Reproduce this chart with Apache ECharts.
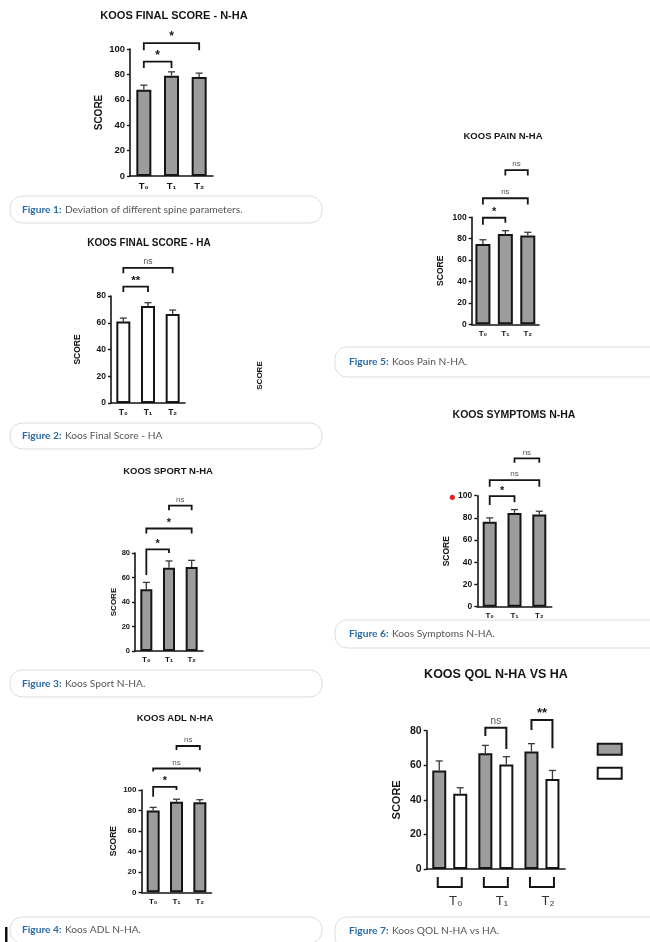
<!DOCTYPE html>
<html><head><meta charset="utf-8">
<script src="https://cdn.jsdelivr.net/npm/echarts@6/dist/echarts.min.js"></script>
<style>html,body{margin:0;padding:0;background:#fff}#c{width:650px;height:942px}</style>
</head><body><div id="c"></div>
<script>
// ---------- data ----------
const timeLabels = ['T₀', 'T₁', 'T₂'];

const finalNHAMean  = [68, 79, 78];
const finalNHAUpper = [71.5, 82, 81];
const finalNHABrackets = [[0, 1, 90, 85, 85], [0, 2, 104.7, 99, 99]];
const finalNHALabels = ['*', '*'];

const finalHAMean  = [61, 72.5, 66.5];
const finalHAUpper = [63.5, 75, 69.5];
const finalHABrackets = [[0, 1, 87, 83, 83], [0, 2, 101, 97, 97]];
const finalHALabels = ['**', 'ns'];

const sportNHAMean  = [50.5, 68, 68.5];
const sportNHAUpper = [56, 73.5, 74];
const sportNHABrackets = [[0, 1, 83, 62, 80], [0, 2, 100, 96, 96], [1, 2, 118.6, 115, 115]];
const sportNHALabels = ['*', '*', 'ns'];

const adlNHAMean  = [80, 88.5, 88];
const adlNHAUpper = [83, 91, 90.5];
const adlNHABrackets = [[0, 1, 103, 93.5, 100], [0, 2, 121, 118, 118], [1, 2, 143, 139, 139]];
const adlNHALabels = ['*', 'ns', 'ns'];

const painNHAMean  = [75, 84.5, 83];
const painNHAUpper = [79, 87.5, 86];
const painNHABrackets = [[0, 1, 99.6, 93, 95], [0, 2, 117.8, 112, 112], [1, 2, 144, 139, 139]];
const painNHALabels = ['*', 'ns', 'ns'];

const symptomsNHAMean  = [76.5, 84.5, 83];
const symptomsNHAUpper = [80, 87.5, 86];
const symptomsNHABrackets = [[0, 1, 99.7, 91.6, 94], [0, 2, 114, 108, 108], [1, 2, 133.6, 129.7, 129.7]];
const symptomsNHALabels = ['*', 'ns', 'ns'];

const qolNHAMean  = [57, 67, 68];
const qolNHAUpper = [62.5, 71.5, 72.5];
const qolHAMean   = [43.5, 60.5, 52];
const qolHAUpper  = [47, 65, 57];
const qolBrackets = [[1, 81.7, 77, 69.4], [2, 86.2, 80.4, 69.8]];
const qolLabels = ['ns', '**'];

const captionTexts = [
  'Deviation of different spine parameters.',
  'Koos Final Score - HA',
  'Koos Sport N-HA.',
  'Koos ADL N-HA.',
  'Koos Pain N-HA.',
  'Koos Symptoms N-HA.',
  'Koos QOL N-HA vs HA.'
];

// ---------- styling / layout ----------
const FONT = '"Liberation Sans", Arial, sans-serif';
const GRAY = '#9c9c9c';
const INK = '#151515';

const charts = [
  { title: 'KOOS FINAL SCORE - N-HA', tx: 174, ty: 17, tfs: 11, grid: [130, 49, 83, 127], max: 100, barW: 15, fill: GRAY, lfs: 9.5, nfs: 10, gap: 26, xfs: 9.5, bfs: 9,
    mean: finalNHAMean, upper: finalNHAUpper, br: finalNHABrackets, brl: finalNHALabels },
  { title: 'KOOS FINAL SCORE - HA', tx: 149, ty: 244, tfs: 10, grid: [111, 296, 74, 107], max: 80, barW: 14, fill: '#ffffff', lfs: 8.5, nfs: 8.5, gap: 28.5, xfs: 8.5, bfs: 8.5,
    mean: finalHAMean, upper: finalHAUpper, br: finalHABrackets, brl: finalHALabels },
  { title: 'KOOS SPORT N-HA', tx: 168, ty: 472, tfs: 9.5, grid: [135, 553, 68, 98], max: 80, barW: 12, fill: GRAY, lfs: 7.5, nfs: 8, gap: 17, xfs: 8, bfs: 8,
    mean: sportNHAMean, upper: sportNHAUpper, br: sportNHABrackets, brl: sportNHALabels },
  { title: 'KOOS ADL N-HA', tx: 175, ty: 719, tfs: 9.5, grid: [141.5, 790, 70, 102.3], max: 100, barW: 13, fill: GRAY, lfs: 8, nfs: 8.5, gap: 23, xfs: 8, bfs: 8,
    mean: adlNHAMean, upper: adlNHAUpper, br: adlNHABrackets, brl: adlNHALabels },
  { title: 'KOOS PAIN N-HA', tx: 503, ty: 137, tfs: 9.5, grid: [471.7, 217.3, 67.3, 107], max: 100, barW: 15, fill: GRAY, lfs: 8.5, nfs: 8.5, gap: 27, xfs: 8, bfs: 8,
    mean: painNHAMean, upper: painNHAUpper, br: painNHABrackets, brl: painNHALabels },
  { title: 'KOOS SYMPTOMS N-HA', tx: 514, ty: 416, tfs: 10.5, grid: [477.3, 495.7, 74.4, 111], max: 100, barW: 14, fill: GRAY, lfs: 8.5, nfs: 8.5, gap: 26, xfs: 8, bfs: 8,
    mean: symptomsNHAMean, upper: symptomsNHAUpper, br: symptomsNHABrackets, brl: symptomsNHALabels }
];
const qol = { title: 'KOOS QOL N-HA VS HA', tx: 496, ty: 675, tfs: 12.5, grid: [426.7, 730.7, 138.3, 138.3], max: 80, barW: 14, lfs: 10.5, nfs: 11, gap: 24 };

function errRender(offset) {
  return function (params, api) {
    const k = api.value(0);
    const p0 = api.coord([k, api.value(1)]);
    const p1 = api.coord([k, api.value(2)]);
    const x = p0[0] + offset, cw = 3.5;
    const st = { stroke: '#3a3a3a', lineWidth: 1.3 };
    return { type: 'group', children: [
      { type: 'line', shape: { x1: x, y1: p0[1], x2: x, y2: p1[1] }, style: st },
      { type: 'line', shape: { x1: x - cw, y1: p1[1], x2: x + cw, y2: p1[1] }, style: st }
    ]};
  };
}
function labelEl(x, y, lab, fs) {
  const star = lab.indexOf('*') >= 0;
  return { type: 'text', x: x, y: y - (star ? 0 : 2),
    style: { text: lab, align: 'center', verticalAlign: 'bottom',
      font: (star ? 'bold ' + (fs + 3) : 'normal ' + fs) + 'px ' + FONT, fill: star ? INK : '#555' } };
}
function bracketRender(labels, fs) {
  return function (params, api) {
    const a = api.value(0), b = api.value(1);
    const pl = api.coord([a, api.value(3)]);
    const pt = api.coord([a, api.value(2)]);
    const pt2 = api.coord([b, api.value(2)]);
    const pr = api.coord([b, api.value(4)]);
    return { type: 'group', children: [
      { type: 'polyline', shape: { points: [pl, pt, pt2, pr] }, style: { stroke: INK, lineWidth: 1.8, fill: 'none' } },
      labelEl((pt[0] + pt2[0]) / 2, pt[1], labels[params.dataIndex], fs)
    ]};
  };
}

const grid = [], xAxis = [], yAxis = [], series = [], title = [];

function addAxes(i, c, xExtra) {
  grid.push({ left: c.grid[0], top: c.grid[1], width: c.grid[2], height: c.grid[3], containLabel: false });
  xAxis.push(Object.assign({
    type: 'category', gridIndex: i, data: timeLabels,
    axisLine: { lineStyle: { color: INK, width: 1.6 } },
    axisTick: { alignWithLabel: true, length: 3, lineStyle: { color: INK, width: 1.4 } },
    axisLabel: { fontFamily: FONT, fontWeight: 'bold', fontSize: c.xfs, color: INK, margin: 5 }
  }, xExtra || {}));
  yAxis.push({
    type: 'value', gridIndex: i, min: 0, max: c.max, interval: 20,
    name: 'SCORE', nameLocation: 'middle', nameRotate: 90, nameGap: c.gap,
    nameTextStyle: { fontFamily: FONT, fontWeight: 'bold', fontSize: c.nfs, color: INK },
    splitLine: { show: false },
    axisLine: { show: true, lineStyle: { color: INK, width: 1.6 } },
    axisTick: { show: true, length: 3, lineStyle: { color: INK, width: 1.4 } },
    axisLabel: { fontFamily: FONT, fontWeight: 'bold', fontSize: c.lfs, color: INK, margin: 5 }
  });
  title.push({ text: c.title, left: c.tx, top: c.ty - c.tfs / 2 - 1, textAlign: 'center', padding: 0,
    textStyle: { fontFamily: FONT, fontWeight: 'bold', fontSize: c.tfs, color: INK } });
}

charts.forEach((c, i) => {
  addAxes(i, c);
  series.push({ type: 'bar', name: 'chart' + i, xAxisIndex: i, yAxisIndex: i, data: c.mean, barWidth: c.barW,
    itemStyle: { color: c.fill, borderColor: INK, borderWidth: 2 }, z: 3, silent: true });
  series.push({ type: 'custom', xAxisIndex: i, yAxisIndex: i, z: 4, silent: true,
    data: c.mean.map((m, k) => [k, m, c.upper[k]]), encode: { x: 0, y: [1, 2] }, renderItem: errRender(0) });
  series.push({ type: 'custom', xAxisIndex: i, yAxisIndex: i, z: 5, silent: true, clip: false,
    data: c.br, encode: { x: [0, 1], y: [2, 3, 4] }, renderItem: bracketRender(c.brl, c.bfs) });
});

// QOL grouped chart
const qi = charts.length;
addAxes(qi, qol, {
  axisTick: { show: false },
  axisLabel: { fontFamily: FONT, fontWeight: 'normal', fontSize: 13, color: '#333', margin: 26, padding: [0, 0, 0, 12] }
});
const QOFF = qol.barW * 1.5 / 2;
series.push({ type: 'bar', name: 'QOL N-HA', xAxisIndex: qi, yAxisIndex: qi, data: qolNHAMean, barWidth: qol.barW, barGap: '50%',
  itemStyle: { color: GRAY, borderColor: INK, borderWidth: 2 }, z: 3, silent: true });
series.push({ type: 'bar', name: 'QOL HA', xAxisIndex: qi, yAxisIndex: qi, data: qolHAMean, barWidth: qol.barW, barGap: '50%',
  itemStyle: { color: '#ffffff', borderColor: INK, borderWidth: 2 }, z: 3, silent: true });
series.push({ type: 'custom', xAxisIndex: qi, yAxisIndex: qi, z: 4, silent: true,
  data: qolNHAMean.map((m, k) => [k, m, qolNHAUpper[k]]), encode: { x: 0, y: [1, 2] }, renderItem: errRender(-QOFF) });
series.push({ type: 'custom', xAxisIndex: qi, yAxisIndex: qi, z: 4, silent: true,
  data: qolHAMean.map((m, k) => [k, m, qolHAUpper[k]]), encode: { x: 0, y: [1, 2] }, renderItem: errRender(QOFF) });
series.push({ type: 'custom', xAxisIndex: qi, yAxisIndex: qi, z: 5, silent: true, clip: false,
  data: qolBrackets, encode: { x: 0, y: [1, 2, 3] },
  renderItem: function (params, api) {
    const k = api.value(0);
    const t = api.coord([k, api.value(1)]);
    const l = api.coord([k, api.value(2)]);
    const r = api.coord([k, api.value(3)]);
    const x1 = t[0] - QOFF, x2 = t[0] + QOFF;
    return { type: 'group', children: [
      { type: 'polyline', shape: { points: [[x1, l[1]], [x1, t[1]], [x2, t[1]], [x2, r[1]]] }, style: { stroke: INK, lineWidth: 2, fill: 'none' } },
      labelEl(t[0], t[1], qolLabels[params.dataIndex], 10)
    ]};
  } });
// group brackets under the axis
series.push({ type: 'custom', xAxisIndex: qi, yAxisIndex: qi, z: 5, silent: true, clip: false,
  data: timeLabels.map((t, k) => [k, 0]), encode: { x: 0, y: 1 },
  renderItem: function (params, api) {
    const p = api.coord([api.value(0), 0]);
    const x1 = p[0] - 12, x2 = p[0] + 12, y1 = p[1] + 8, y2 = p[1] + 18;
    return { type: 'polyline', shape: { points: [[x1, y1], [x1, y2], [x2, y2], [x2, y1]] }, style: { stroke: INK, lineWidth: 2, fill: 'none' } };
  } });

// ---------- captions and stray marks ----------
const capBoxes = [
  [10, 196, 312, 27], [10, 423, 312, 26], [10, 670, 312, 27], [10, 917, 312, 26],
  [335, 347, 330, 30], [335, 620, 330, 28], [335, 917, 330, 32]
];
const graphic = capBoxes.map((b, i) => ({
  type: 'group', z: 100, children: [
    { type: 'rect', shape: { x: b[0], y: b[1], width: b[2], height: b[3], r: 12 },
      style: { fill: '#ffffff', stroke: '#d9dee4', lineWidth: 1 } },
    { type: 'text', x: b[0] + (i < 4 ? 12 : 14), y: (i === 6 ? b[1] + 14 : b[1] + b[3] / 2),
      style: { text: '{b|Figure ' + (i + 1) + ':} {n|' + captionTexts[i] + '}', verticalAlign: 'middle',
        rich: { b: { fontFamily: 'Lato, sans-serif', fontSize: 10.2, fontWeight: 'bold', fill: '#2a6aa3' },
                n: { fontFamily: 'Lato, sans-serif', fontSize: 10.2, fill: '#555' } } } }
  ]
}));
graphic.push({ type: 'circle', z: 100, shape: { cx: 452.3, cy: 497.3, r: 2.6 }, style: { fill: '#e02424' } });
graphic.push({ type: 'text', z: 100, x: 260, y: 375.5, rotation: Math.PI / 2,
  style: { text: 'SCORE', align: 'center', verticalAlign: 'middle', font: 'bold 8px ' + FONT, fill: INK } });
graphic.push({ type: 'rect', z: 100, shape: { x: 5, y: 927, width: 2.5, height: 15 }, style: { fill: '#111' } });

const chart = echarts.init(document.getElementById('c'), null, { renderer: 'canvas' });
chart.setOption({
  backgroundColor: '#ffffff',
  animation: false,
  title, grid, xAxis, yAxis, series, graphic,
  legend: { data: ['QOL N-HA', 'QOL HA'], left: 596.7, top: 742.7, orient: 'vertical', icon: 'rect', itemWidth: 24, itemHeight: 11, itemGap: 11,
    padding: 0, selectedMode: false, formatter: () => '', itemStyle: { borderColor: INK, borderWidth: 2 } }
});
</script></body></html>
